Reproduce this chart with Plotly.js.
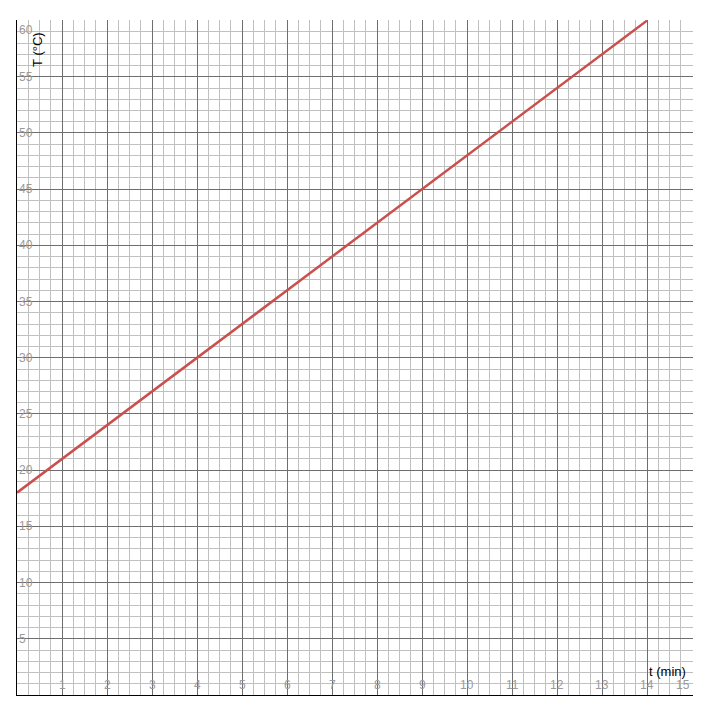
<!DOCTYPE html>
<html>
<head>
<meta charset="utf-8">
<script src="https://cdn.plot.ly/plotly-3.0.1.min.js"></script>
<style>
  html, body { margin: 0; padding: 0; background: #fff; }
  #chart { width: 718px; height: 718px; }
</style>
</head>
<body>
<div id="chart"></div>
<script>
// line data
let time_min = [0, 14];
let temp_c = [18, 60];

// tick labels
let x_ticks = [1, 2, 3, 4, 5, 6, 7, 8, 9, 10, 11, 12, 13, 14, 15];
let y_ticks = [5, 10, 15, 20, 25, 30, 35, 40, 45, 50, 55, 60];

// axis labels
let x_label = "t (min)";
let y_label = "T (°C)";

let x_max = 15.02;
let y_max = 60.05;

function draw() {
    /**
     * Draws the temperature line over graph paper.
     */

    let root = document.getElementById("chart");
    let tick_font = {family: "Arial, Liberation Sans, sans-serif", size: 12, color: "#9a9a9a"};
    let title_font = {family: "Arial, Liberation Sans, sans-serif", size: 13, color: "#000"};

    let data = [{
        x: time_min,
        y: temp_c,
        type: "scatter",
        mode: "lines",
        hoverinfo: "skip",
        line: {color: "#c9504c", width: 2.5}
    }];

    let annotations = [];

    // tick labels sit inside the plot area, so they are drawn as annotations
    for (let i = 0; i < x_ticks.length; i++) {
        let last = x_ticks[i] >= x_max - 0.5;
        annotations.push({
            x: x_ticks[i],
            y: 0,
            xref: "x",
            yref: "y",
            text: String(x_ticks[i]),
            xanchor: last ? "right" : "center",
            yanchor: "bottom",
            yshift: 1,
            showarrow: false,
            font: tick_font
        });
    }
    for (let i = 0; i < y_ticks.length; i++) {
        let last = y_ticks[i] >= y_max - 0.5;
        annotations.push({
            x: 0,
            y: y_ticks[i],
            xref: "x",
            yref: "y",
            text: String(y_ticks[i]),
            xanchor: "left",
            yanchor: last ? "top" : "middle",
            showarrow: false,
            font: tick_font
        });
    }

    // axis titles
    annotations.push({
        text: y_label,
        xref: "paper", yref: "paper",
        x: 0.03, y: 0.985,
        xanchor: "center", yanchor: "top",
        textangle: -90,
        showarrow: false,
        font: title_font
    });
    annotations.push({
        text: x_label,
        xref: "paper", yref: "paper",
        x: 0.962, y: 0.035,
        xanchor: "center", yanchor: "middle",
        showarrow: false,
        font: title_font
    });

    let layout = {
        width: 718,
        height: 718,
        showlegend: false,
        paper_bgcolor: "#fff",
        plot_bgcolor: "#fff",
        margin: {l: 17, r: 25, t: 20, b: 23},
        xaxis: {
            range: [0, x_max],
            dtick: 1,
            tick0: 0,
            showgrid: true,
            gridcolor: "#6e6e6e",
            gridwidth: 1,
            zeroline: false,
            showline: true,
            linecolor: "#000",
            linewidth: 1,
            ticks: "",
            showticklabels: false,
            minor: {dtick: 0.25, showgrid: true, gridcolor: "#c0c0c0", gridwidth: 1},
            fixedrange: true
        },
        yaxis: {
            range: [0, y_max],
            dtick: 5,
            tick0: 0,
            showgrid: true,
            gridcolor: "#6e6e6e",
            gridwidth: 1,
            zeroline: false,
            showline: true,
            linecolor: "#000",
            linewidth: 1,
            ticks: "",
            showticklabels: false,
            minor: {dtick: 1, showgrid: true, gridcolor: "#c0c0c0", gridwidth: 1},
            fixedrange: true
        },
        annotations: annotations
    };

    let config = {displayModeBar: false, staticPlot: true};

    Plotly.newPlot(root, data, layout, config);
}

draw();
</script>
</body>
</html>
